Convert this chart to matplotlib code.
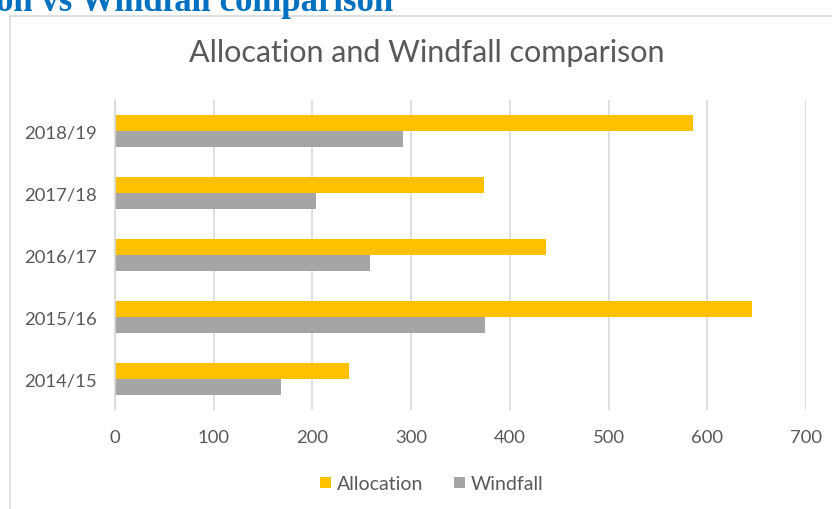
import numpy as np
import matplotlib.pyplot as plt
from matplotlib.lines import Line2D

# datos
anios = ["2014/15", "2015/16", "2016/17", "2017/18", "2018/19"]
asignacion = [237, 645, 437, 374, 586]
ganancia = [168, 375, 258, 204, 292]

amarillo = "#FFC000"
gris = "#A5A5A5"
texto = "#595959"
W, H = 832, 510

plt.rcParams['font.family'] = ['Lato', 'DejaVu Sans']

fig = plt.figure(figsize=(W/100, H/100), dpi=100)

# encabezado cortado arriba
fig.text(-4/W, 1 + 14/H, "on vs Windfall comparison", family="Liberation Serif",
         fontweight="bold", fontsize=25, color="#0070C0", va="top", ha="left")

# borde del grafico
fig.add_artist(Line2D([10/W, 10/W], [0, 1 - 17/H], color="#D9D9D9", lw=1.2))
fig.add_artist(Line2D([10/W, 1], [1 - 17/H, 1 - 17/H], color="#D9D9D9", lw=1.2))

ax = fig.add_axes([115/W, 99/H, 691/W, 310/H])
y = np.arange(len(anios))
alto = 0.26
ax.barh(y + alto/2, asignacion, height=alto, color=amarillo, label="Allocation")
ax.barh(y - alto/2, ganancia, height=alto, color=gris, label="Windfall")

ax.set_xlim(0, 700)
ax.set_ylim(-0.5, len(anios) - 0.5)
ax.set_xticks(np.arange(0, 701, 100))
ax.set_yticks(y)
ax.set_yticklabels(anios)
ax.grid(axis="x", color="#D9D9D9", lw=1.2)
ax.set_axisbelow(True)
for s in ["top", "right", "bottom"]:
    ax.spines[s].set_visible(False)
ax.spines["left"].set_color("#D9D9D9")
ax.spines["left"].set_linewidth(1.2)
ax.tick_params(axis="both", length=0, colors=texto, labelsize=13.3)
ax.tick_params(axis="x", pad=14)
ax.tick_params(axis="y", pad=13)

fig.text(427/W, 1 - 53/H, "Allocation and Windfall comparison", fontsize=22,
         color=texto, ha="center", va="center")

fig.legend(handles=ax.get_legend_handles_labels()[0], labels=["Allocation", "Windfall"],
           loc="center", bbox_to_anchor=(432/W, 1 - 485/H), ncol=2, frameon=False,
           fontsize=14, labelcolor=texto, handlelength=0.55, handleheight=0.55,
           handletextpad=0.3, columnspacing=1.6)

fig.savefig("out.png", dpi=100)
